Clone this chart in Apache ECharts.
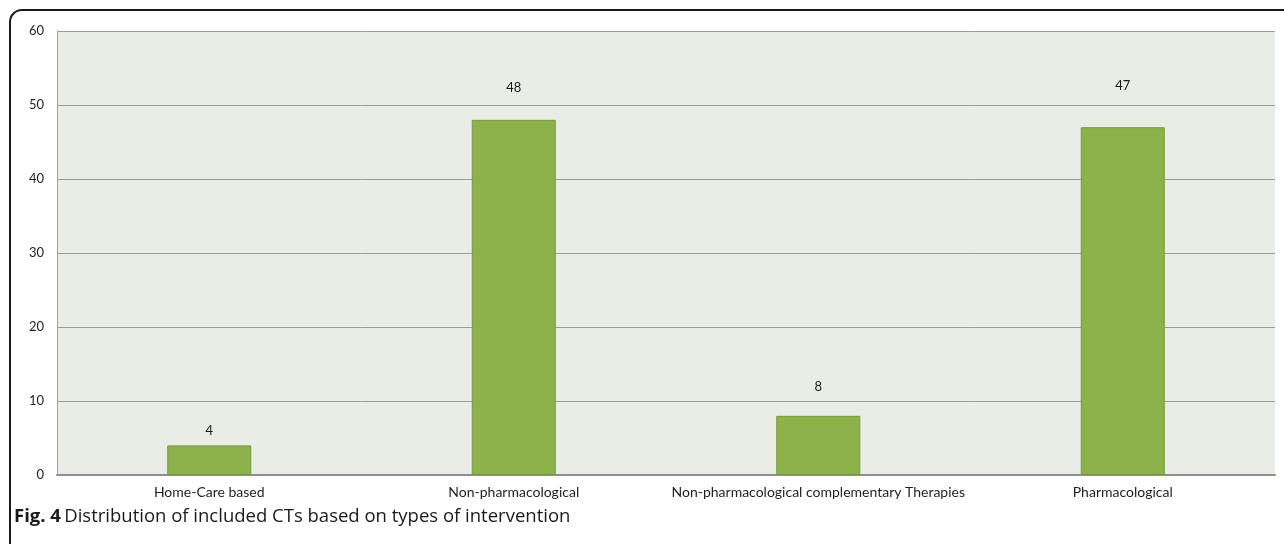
<!DOCTYPE html>
<html>
<head>
<meta charset="utf-8">
<script src="https://cdn.jsdelivr.net/npm/echarts@6/dist/echarts.min.js"></script>
<style>
  html, body { margin: 0; padding: 0; background: #ffffff; }
  #chart { width: 1284px; height: 544px; }
</style>
</head>
<body>
<div id="chart"></div>
<script>
// Intervention types and number of included CTs
var categories = [
  'Home-Care based',
  'Non-pharmacological',
  'Non-pharmacological complementary Therapies',
  'Pharmacological'
];
var counts = [4, 48, 8, 47];
var yTicks = [0, 10, 20, 30, 40, 50, 60];

// label gaps above each bar (the value labels sit at hand-placed heights)
var labelGap = [8, 25, 22, 35];

var chart = echarts.init(document.getElementById('chart'), null, { renderer: 'canvas' });

var option = {
  animation: false,
  backgroundColor: '#ffffff',
  grid: {
    left: 57, right: 9, top: 31, bottom: 69,
    show: true, backgroundColor: '#e9ede5', borderWidth: 0
  },
  xAxis: {
    type: 'category',
    data: categories,
    axisLine: { show: true, lineStyle: { color: '#8f8f8f', width: 2 } },
    axisTick: { show: false },
    axisLabel: {
      interval: 0, margin: 10,
      fontFamily: 'Lato', fontSize: 14, color: '#1f1f1f'
    }
  },
  yAxis: {
    type: 'value',
    min: yTicks[0], max: yTicks[yTicks.length - 1], interval: 10,
    axisLine: { show: true, lineStyle: { color: '#a3a3a3', width: 1 } },
    axisTick: { show: false },
    splitLine: { show: true, lineStyle: { color: '#9c9c9c', width: 1 } },
    axisLabel: {
      margin: 13, fontFamily: 'Lato', fontSize: 13, color: '#1f1f1f'
    }
  },
  series: [{
    type: 'bar',
    barWidth: 84,
    data: counts.map(function (v, i) {
      return { value: v, label: { distance: labelGap[i] } };
    }),
    itemStyle: { color: '#8db24c', borderColor: '#77983c', borderWidth: 1 },
    label: {
      show: true, position: 'top',
      fontFamily: 'Lato', fontSize: 13, color: '#1a1a1a'
    }
  }],
  graphic: [
    {
      type: 'rect',
      shape: { x: 10, y: 10, width: 1400, height: 700, r: [12, 0, 0, 0] },
      style: { fill: null, stroke: '#1a1a1a', lineWidth: 2 },
      silent: true
    },
    {
      type: 'text',
      left: 14, top: 507,
      style: {
        rich: {
          b: { fontFamily: 'Open Sans', fontWeight: 'bold', fontSize: 18.5, fill: '#1a1a1a' },
          n: { fontFamily: 'Open Sans', fontSize: 18.5, fill: '#1a1a1a' }
        },
        text: '{b|Fig. 4} {n|Distribution of included CTs based on types of intervention}'
      }
    }
  ]
};

chart.setOption(option);
</script>
</body>
</html>
